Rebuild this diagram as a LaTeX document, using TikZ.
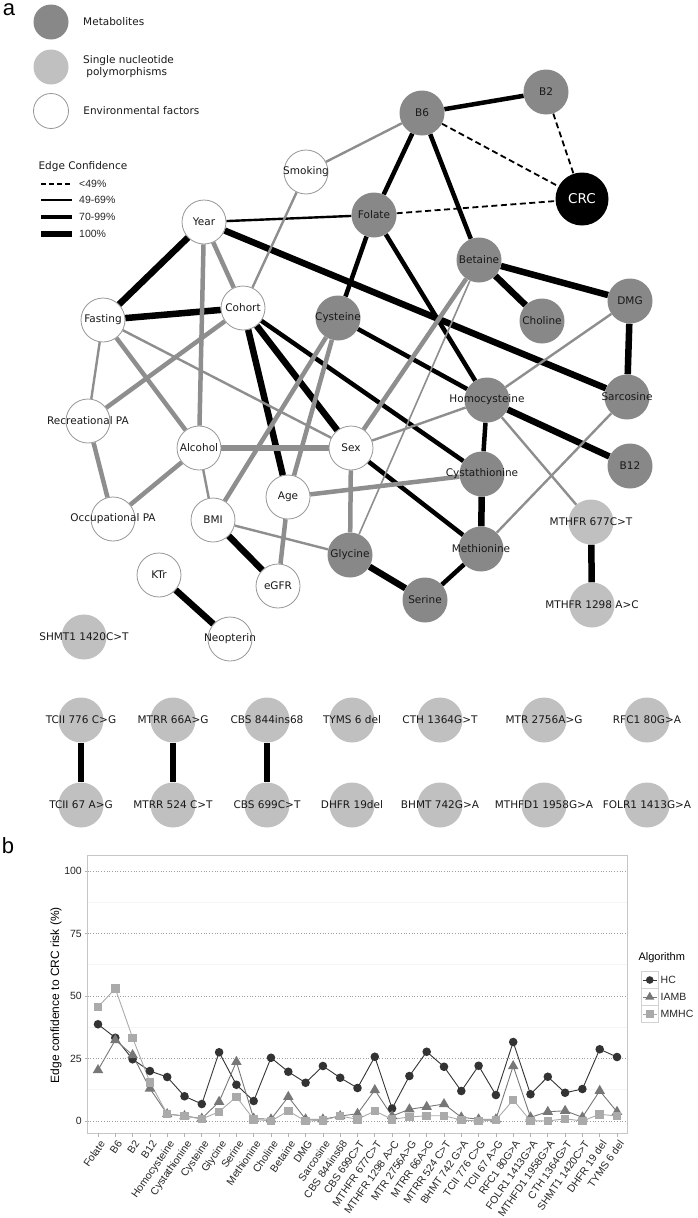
\documentclass[tikz,border=0pt]{standalone}
\usepackage{fontspec}
\setmainfont{DejaVu Sans}
\newfontfamily\plotfont{Liberation Sans}
\usetikzlibrary{positioning, backgrounds, shapes.geometric}
\definecolor{metabgray}{RGB}{136,136,136}
\definecolor{snpgray}{RGB}{192,192,192}
\definecolor{envborder}{RGB}{150,150,150}
\definecolor{edgegray}{RGB}{142,142,142}
\definecolor{hccol}{RGB}{51,51,51}
\definecolor{iambcol}{RGB}{119,119,119}
\definecolor{mmhccol}{RGB}{170,170,170}

\begin{document}
\begin{tikzpicture}[
        x=1pt, y=-1pt,
        every label/.style={font=\fontsize{10.5}{12}\selectfont, text=black!90, inner sep=0pt},
        metab/.style={circle, fill=metabgray, minimum size=45pt, inner sep=0pt, label={center:#1}},
        snp/.style={circle, fill=snpgray, minimum size=45pt, inner sep=0pt, label={center:#1}},
        envf/.style={circle, draw=envborder, fill=white, line width=0.8pt, minimum size=44pt, inner sep=0pt, label={center:#1}},
        outcome/.style={circle, fill=black, minimum size=53pt, inner sep=0pt, text=white, font=\fontsize{13.5}{15}\selectfont},
        legcirc/.style={circle, minimum size=35pt, inner sep=0pt},
        legtext/.style={font=\fontsize{10.5}{12}\selectfont, align=left, text=black!90},
        conflow/.style={line width=1.8pt, dash pattern=on 6pt off 3.5pt},
        conf49/.style={line width=2.4pt},
        conf70/.style={line width=4.5pt},
        conf100/.style={line width=6.5pt},
        grayedge/.style={draw=edgegray},
        ticklab/.style={font=\plotfont\fontsize{10.5}{12}\selectfont, text=black!85, inner sep=1pt},
        axistitle/.style={font=\plotfont\fontsize{12}{14}\selectfont},
        legtitle/.style={font=\plotfont\fontsize{11}{13}\selectfont},
        majorgrid/.style={gray!75, line width=0.7pt, dotted},
        minorgrid/.style={gray!8, line width=0.6pt},
        panelborder/.style={draw=gray!45, line width=0.8pt},
        tickmark/.style={gray!60, line width=0.7pt},
        keybox/.style={draw=gray!35, line width=0.7pt, fill=white},
        hcline/.style={hccol, line width=0.9pt},
        iambline/.style={iambcol, line width=0.9pt},
        mmhcline/.style={mmhccol, line width=0.9pt},
        trimark/.style={regular polygon, regular polygon sides=3, fill=iambcol, minimum size=12pt, inner sep=0pt},
        sqmark/.style={rectangle, fill=mmhccol, minimum size=8.5pt, inner sep=0pt}
    ]
    \useasboundingbox (0,0) rectangle (697,1218);

    % panel letters
    \node[font=\plotfont\fontsize{22}{24}\selectfont, inner sep=0pt] (pa) at (9,10) {a};
    \node[font=\plotfont\fontsize{22}{24}\selectfont, inner sep=0pt] (pb) at (8,846) {b};

    % Node type legend
    \node[legcirc, fill=metabgray] (legmet) at (51,22) {};
    \node[legtext, right=11pt of legmet] (legmettxt) {Metabolites};
    \node[legcirc, fill=snpgray] (legsnp) at (51,67) {};
    \node[legtext, right=11pt of legsnp] (legsnptxt) {Single nucleotide\\\hspace*{0.3em}polymorphisms};
    \node[legcirc, draw=envborder, fill=white, line width=0.8pt] (legenv) at (51,111) {};
    \node[legtext, right=11pt of legenv] (legenvtxt) {Environmental factors};

    % Edge confidence legend
    \node[legtext, anchor=west] (confhead) at (35,167) {Edge Confidence};
    \node[ticklab, anchor=west] (conf1) at (78,184) {<49\%};
    \node[ticklab, anchor=west] (conf2) at (78,200) {49-69\%};
    \node[ticklab, anchor=west] (conf3) at (78,217) {70-99\%};
    \node[ticklab, anchor=west] (conf4) at (78,234) {100\%};
    \draw[conflow, line width=1.6pt, dash pattern=on 5pt off 3pt] ([xshift=-37pt]conf1.west) -- ([xshift=-6pt]conf1.west);
    \draw[line width=2pt] ([xshift=-37pt]conf2.west) -- ([xshift=-6pt]conf2.west);
    \draw[line width=4pt] ([xshift=-37pt]conf3.west) -- ([xshift=-6pt]conf3.west);
    \draw[line width=6pt] ([xshift=-37pt]conf4.west) -- ([xshift=-6pt]conf4.west);

    % Network nodes
    \node[metab=B6] (b6) at (422,113) {};
    \node[metab=B2] (b2) at (546,92) {};
    \node[outcome] (crc) at (582,199) {CRC};
    \node[metab=Folate] (folate) at (374,215) {};
    \node[metab=Betaine] (betaine) at (479,260) {};
    \node[metab=DMG] (dmg) at (630,301) {};
    \node[metab=Choline] (choline) at (542,321) {};
    \node[metab=Cysteine] (cysteine) at (338,318) {};
    \node[envf=Smoking] (smoking) at (306,172) {};
    \node[envf=Year] (year) at (204,222) {};
    \node[envf=Cohort] (cohort) at (243,308) {};
    \node[envf=Fasting] (fasting) at (103,320) {};
    \node[metab=Homocysteine] (homocys) at (487,400) {};
    \node[metab=Sarcosine] (sarcosine) at (627,397) {};
    \node[envf=Recreational PA] (recpa) at (88,421) {};
    \node[envf=Alcohol] (alcohol) at (199,448) {};
    \node[envf=Sex] (sex) at (351,448) {};
    \node[metab=B12] (b12) at (630,466) {};
    \node[metab=Cystathionine] (cystathio) at (482,474) {};
    \node[envf=Age] (age) at (288,497) {};
    \node[envf=BMI] (bmi) at (213,520) {};
    \node[envf=Occupational PA] (occpa) at (113,519) {};
    \node[snp=MTHFR 677C>T] (mthfrA) at (591,522) {};
    \node[metab=Methionine] (methionine) at (481,549) {};
    \node[metab=Glycine] (glycine) at (350,555) {};
    \node[envf=eGFR] (egfr) at (278,586) {};
    \node[metab=Serine] (serine) at (425,600) {};
    \node[envf=KTr] (ktr) at (159,575) {};
    \node[snp=MTHFR 1298 A>C] (mthfrB) at (592,605) {};
    \node[envf=Neopterin] (neopterin) at (230,639) {};
    \node[snp=SHMT1 1420C>T] (shmt) at (84,637) {};

    % Unlinked SNP pairs
    \node[snp=TCII 776 C>G] (tcA) at (81,720) {};
    \node[snp=TCII 67 A>G] (tcB) at (81,805) {};
    \node[snp=MTRR 66A>G] (mtrrA) at (173,720) {};
    \node[snp=MTRR 524 C>T] (mtrrB) at (173,805) {};
    \node[snp=CBS 844ins68] (cbsA) at (267,720) {};
    \node[snp=CBS 699C>T] (cbsB) at (267,805) {};
    \node[snp=TYMS 6 del] (tyms) at (352,720) {};
    \node[snp=DHFR 19del] (dhfr) at (352,805) {};
    \node[snp=CTH 1364G>T] (cth) at (440,720) {};
    \node[snp=BHMT 742G>A] (bhmt) at (440,805) {};
    \node[snp=MTR 2756A>G] (mtr) at (544,720) {};
    \node[snp=MTHFD1 1958G>A] (mthfd) at (544,805) {};
    \node[snp=RFC1 80G>A] (rfc) at (647,720) {};
    \node[snp=FOLR1 1413G>A] (folr) at (647,805) {};

    % Edges
    \begin{scope}[on background layer]
    \draw[conflow] (b6) -- (crc);
    \draw[conflow] (b2) -- (crc);
    \draw[conflow] (folate) -- (crc);
    \draw[conf70] (b6) -- (b2);
    \draw[conf70] (b6) -- (folate);
    \draw[conf70] (b6) -- (betaine);
    \draw[conf49] (year) -- (folate);
    \draw[conf70] (folate) -- (cysteine);
    \draw[conf70] (folate) -- (homocys);
    \draw[conf100] (betaine) -- (dmg);
    \draw[conf100] (betaine) -- (choline);
    \draw[conf100] (dmg) -- (sarcosine);
    \draw[conf100] (year) -- (sarcosine);
    \draw[conf70] (cysteine) -- (homocys);
    \draw[conf100] (homocys) -- (b12);
    \draw[conf70] (cystathio) -- (homocys);
    \draw[conf100] (cystathio) -- (methionine);
    \draw[conf70] (sex) -- (methionine);
    \draw[conf70] (serine) -- (methionine);
    \draw[conf100] (glycine) -- (serine);
    \draw[conf100] (cohort) -- (age);
    \draw[conf100] (cohort) -- (sex);
    \draw[conf70] (cohort) -- (cystathio);
    \draw[conf100] (fasting) -- (cohort);
    \draw[conf100] (fasting) -- (year);
    \draw[conf100] (bmi) -- (egfr);
    \draw[conf100] (ktr) -- (neopterin);
    \draw[conf100] (mthfrA) -- (mthfrB);
    \draw[conf100] (tcA) -- (tcB);
    \draw[conf100] (mtrrA) -- (mtrrB);
    \draw[conf100] (cbsA) -- (cbsB);
    % grey edges
    \draw[conf49, grayedge] (b6) -- (smoking);
    \draw[conf49, grayedge] (smoking) -- (cohort);
    \draw[conf70, grayedge] (year) -- (alcohol);
    \draw[conf70, grayedge] (year) -- (cohort);
    \draw[conf70, grayedge] (cohort) -- (recpa);
    \draw[conf49, grayedge] (fasting) -- (recpa);
    \draw[conf70, grayedge] (fasting) -- (alcohol);
    \draw[conf49, grayedge] (fasting) -- (sex);
    \draw[conf70, grayedge] (recpa) -- (occpa);
    \draw[conf70, grayedge] (alcohol) -- (occpa);
    \draw[conf100, grayedge] (alcohol) -- (sex);
    \draw[conf49, grayedge] (alcohol) -- (bmi);
    \draw[conf70, grayedge] (cysteine) -- (bmi);
    \draw[conf70, grayedge] (cysteine) -- (age);
    \draw[conf70, grayedge] (age) -- (cystathio);
    \draw[conf70, grayedge] (age) -- (egfr);
    \draw[conf49, grayedge] (bmi) -- (glycine);
    \draw[conf70, grayedge] (sex) -- (glycine);
    \draw[conf49, grayedge] (sex) -- (homocys);
    \draw[conf70, grayedge] (betaine) -- (sex);
    \draw[conf49, grayedge, line width=1.6pt] (betaine) -- (glycine);
    \draw[conf49, grayedge] (dmg) -- (homocys);
    \draw[conf49, grayedge] (methionine) -- (sarcosine);
    \draw[conf49, grayedge] (homocys) -- (mthfrA);
    \end{scope}

    % Chart panel
    \foreach \v in {12.5,37.5,62.5,87.5}
        \draw[minorgrid] (87.6,{1121-2.5*\v}) -- (627.4,{1121-2.5*\v});
    \foreach \v in {0,25,50,75,100} {
        \draw[majorgrid] (87.6,{1121-2.5*\v}) -- (627.4,{1121-2.5*\v});
        \draw[tickmark] (84.5,{1121-2.5*\v}) -- (87.6,{1121-2.5*\v});
        \node[ticklab, anchor=east] (ytick\v) at (83,{1121-2.5*\v}) {\v};
    }
    \draw[panelborder] (87.6,855) rectangle (627.4,1133);
    \foreach \lab [count=\i] in {Folate, B6, B2, B12, Homocysteine, Cystathionine, Cysteine, Glycine, Serine, Methionine, Choline, Betaine, DMG, Sarcosine, CBS 844ins68, CBS 699C>T, MTHFR 677C>T, MTHFR 1298 A>C, MTR 2756A>G, MTRR 66A>G, MTRR 524 C>T, BHMT 742 G>A, TCII 776 C>G, TCII 67 A>G, RFC1 80G>A, FOLR1 1413G>A, MTHFD1 1958G>A, CTH 1364G>T, SHMT1 1420C>T, DHFR 19 del, TYMS 6 del} {
        \draw[tickmark] ({98+(\i-1)*17.3},1133) -- ++(0,4);
        \node[ticklab, anchor=north east, rotate=55] (xtick\i) at ({99+(\i-1)*17.3},1138) {\lab};
    }
    \node[axistitle, rotate=90] (ytitle) at (56,995) {Edge confidence to CRC risk (\%)};

    % Series
    \foreach \v [count=\i] in {38.7,33.3,24.7,20,17.6,9.9,6.8,27.5,14.5,8,25.3,19.7,15.3,22,17.3,13.2,25.7,5,18,27.7,21.7,12,22.1,10.4,31.6,10.7,17.7,11.3,12.8,28.7,25.6}
        \coordinate (hc\i) at ({98+(\i-1)*17.3},{1121-2.5*\v});
    \foreach \v [count=\i] in {20.4,32.4,26.4,13,2.8,2,1,7.7,23.7,1,0.7,9.7,0.7,0.7,2,2.9,12.4,2,4.7,5.7,6.8,1.5,0.7,0.7,22,1.5,3.7,4.1,1.5,12.1,3.7}
        \coordinate (iamb\i) at ({98+(\i-1)*17.3},{1121-2.5*\v});
    \foreach \v [count=\i] in {45.6,53,33.3,15.5,2.8,2,0.8,3.7,9.7,0.7,0,4,0,0.3,2,0.7,4,0.7,1.6,2.1,2.1,0.4,0,0.4,8.4,0.1,0,0.9,0,2.7,2}
        \coordinate (mmhc\i) at ({98+(\i-1)*17.3},{1121-2.5*\v});
    \draw[hcline] (hc1) \foreach \i in {2,...,31} {-- (hc\i)};
    \draw[iambline] (iamb1) \foreach \i in {2,...,31} {-- (iamb\i)};
    \draw[mmhcline] (mmhc1) \foreach \i in {2,...,31} {-- (mmhc\i)};
    \foreach \i in {1,...,31} {
        \fill[hccol] (hc\i) circle (4.3pt);
        \node[trimark] at (iamb\i) {};
        \node[sqmark] at (mmhc\i) {};
    }

    % Algorithm legend
    \node[legtitle, anchor=west] (algtitle) at (635,958) {Algorithm};
    \draw[keybox] (641,971.5) rectangle (658.5,988.5);
    \draw[keybox] (641,988.5) rectangle (658.5,1005.5);
    \draw[keybox] (641,1005.5) rectangle (658.5,1022.5);
    \draw[hcline] (643,980) -- (656.5,980);
    \fill[hccol] (649.75,980) circle (3.8pt);
    \draw[iambline] (643,997) -- (656.5,997);
    \node[trimark, minimum size=10.5pt] (keyiamb) at (649.75,997) {};
    \draw[mmhcline] (643,1014) -- (656.5,1014);
    \node[sqmark, minimum size=7.5pt] (keymmhc) at (649.75,1014) {};
    \node[ticklab, anchor=west] (labhc) at (659.5,980) {HC};
    \node[ticklab, anchor=west] (labiamb) at (659.5,997) {IAMB};
    \node[ticklab, anchor=west] (labmmhc) at (659.5,1014) {MMHC};

\end{tikzpicture}
\end{document}
